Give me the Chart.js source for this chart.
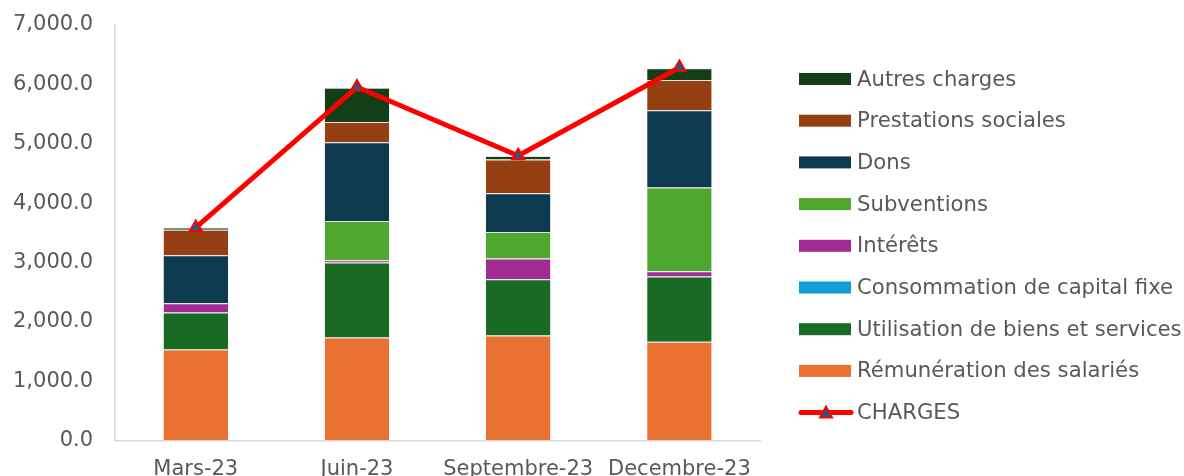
<!DOCTYPE html>
<html>
<head>
<meta charset="utf-8">
<script src="https://cdn.jsdelivr.net/npm/chart.js@4.4.1/dist/chart.umd.min.js"></script>
<style>
  html, body { margin: 0; padding: 0; background: #fff; }
  #wrap { width: 1184px; height: 476px; }
</style>
</head>
<body>
<div id="wrap"><canvas id="c"></canvas></div>
<script>
const categories = ["Mars-23", "Juin-23", "Septembre-23", "Decembre-23"];

const remuneration = [1535, 1738, 1772, 1666];
const utilisation = [624, 1262, 949, 1099];
const consommation = [0, 0, 0, 0];
const interets = [158, 40, 347, 90];
const subventions = [0, 662, 449, 1408];
const dons = [808, 1324, 651, 1301];
const prestations = [430, 342, 566, 510];
const autres = [34, 577, 62, 197];
const charges = [3590, 5955, 4800, 6285];

const yTicks = [0, 1000, 2000, 3000, 4000, 5000, 6000, 7000];

const textColor = '#595959';
const font = { family: 'DejaVu Sans', size: 21 };
const legendFont = { family: 'DejaVu Sans', size: 21.2 };

function bar(label, data, color) {
    return {
        type: 'bar', label: label, data: data, backgroundColor: color,
        borderColor: 'rgba(200,200,200,0.5)', borderWidth: { top: 1 }, borderSkipped: 'bottom',
        order: 1, stack: 'bars',
        barPercentage: 0.4, categoryPercentage: 1
    };
}

const datasets = [
    {
        type: 'line', label: 'CHARGES', data: charges, order: 0, stack: 'line',
        borderColor: '#FF0000', borderWidth: 5, backgroundColor: '#1F5C85',
        pointStyle: 'triangle', pointRadius: 7, pointBorderColor: '#FF0000',
        pointBorderWidth: 2, tension: 0
    },
    bar('Rémunération des salariés', remuneration, '#E97132'),
    bar('Utilisation de biens et services', utilisation, '#196B24'),
    bar('Consommation de capital fixe', consommation, '#0F9ED5'),
    bar('Intérêts', interets, '#A02B93'),
    bar('Subventions', subventions, '#4EA72E'),
    bar('Dons', dons, '#0E3A4F'),
    bar('Prestations sociales', prestations, '#963F12'),
    bar('Autres charges', autres, '#123F17')
];

// legend drawn by hand on the right: the built-in one gets squeezed
const sideLegend = {
    id: 'sideLegend',
    afterDraw(chart) {
        const ctx = chart.ctx;
        const x0 = chart.chartArea.right + 39;
        const boxW = 52, boxH = 12, rowH = 41.7;
        let y = 79;
        ctx.save();
        ctx.font = legendFont.size + 'px "' + legendFont.family + '"';
        ctx.textBaseline = 'middle';
        ctx.textAlign = 'left';
        for (let i = chart.data.datasets.length - 1; i >= 0; i--) {
            const ds = chart.data.datasets[i];
            if (ds.type === 'line') {
                ctx.strokeStyle = ds.borderColor;
                ctx.lineWidth = 5;
                ctx.lineCap = 'round';
                ctx.beginPath(); ctx.moveTo(x0 + 2, y); ctx.lineTo(x0 + boxW, y); ctx.stroke();
                const cx = x0 + boxW / 2 + 1;
                ctx.beginPath();
                ctx.moveTo(cx, y - 6); ctx.lineTo(cx + 6, y + 5); ctx.lineTo(cx - 6, y + 5); ctx.closePath();
                ctx.fillStyle = ds.backgroundColor; ctx.fill();
                ctx.lineWidth = 2; ctx.strokeStyle = ds.pointBorderColor; ctx.stroke();
            } else {
                ctx.fillStyle = ds.backgroundColor;
                ctx.fillRect(x0, y - boxH / 2, boxW, boxH);
            }
            ctx.fillStyle = textColor;
            ctx.fillText(ds.label, x0 + boxW + 6, y + 1);
            y += rowH;
        }
        ctx.restore();
    }
};

new Chart(document.getElementById('c'), {
    data: { labels: categories, datasets: datasets },
    plugins: [sideLegend],
    options: {
        responsive: true,
        maintainAspectRatio: false,
        animation: false,
        layout: { padding: { top: 25, left: 5, bottom: -22, right: 424 } },
        plugins: {
            tooltip: { enabled: false },
            legend: { display: false }
        },
        scales: {
            x: {
                stacked: true,
                grid: { display: false, drawTicks: false },
                border: { color: '#D9D9D9', width: 1.5 },
                ticks: { color: textColor, font: font, padding: 16, maxRotation: 0, autoSkip: false }
            },
            y: {
                stacked: true,
                min: 0, max: 7000,
                afterBuildTicks: axis => { axis.ticks = yTicks.map(v => ({ value: v })); },
                grid: { display: true, drawOnChartArea: false, drawTicks: true, tickLength: 14, color: 'rgba(0,0,0,0)' },
                border: { color: '#D9D9D9', width: 1.5 },
                ticks: {
                    color: textColor, font: font, padding: 8,
                    callback: v => v.toLocaleString('en-US', { minimumFractionDigits: 1, maximumFractionDigits: 1 })
                }
            }
        }
    }
});
</script>
</body>
</html>
